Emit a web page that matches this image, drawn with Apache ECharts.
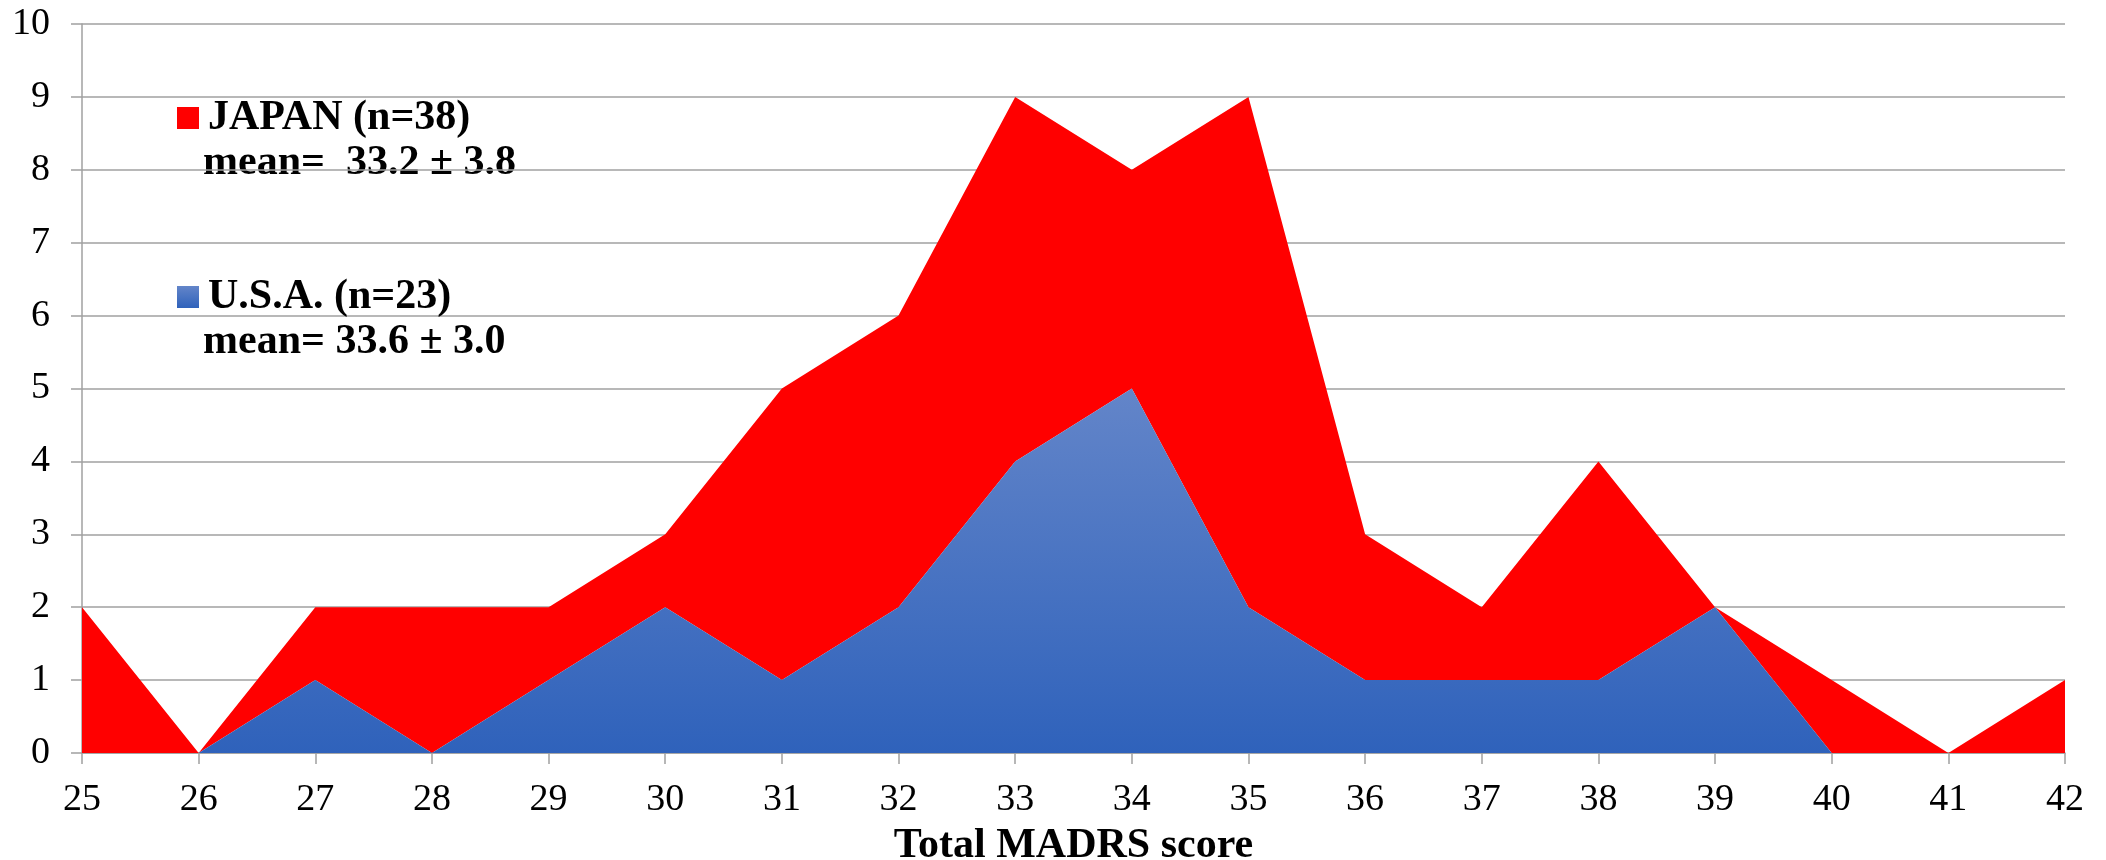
<!DOCTYPE html>
<html>
<head>
<meta charset="utf-8">
<script src="https://cdn.jsdelivr.net/npm/echarts@6/dist/echarts.min.js"></script>
<style>
  html, body { margin: 0; padding: 0; background: #fff; }
  #chart { width: 2106px; height: 860px; }
</style>
</head>
<body>
<div id="chart"></div>
<script>
// Data
var categories = ['25','26','27','28','29','30','31','32','33','34','35','36','37','38','39','40','41','42'];
var usaCounts   = [0, 0, 1, 0, 1, 2, 1, 2, 4, 5, 2, 1, 1, 1, 2, 0, 0, 0];
var japanCounts = [2, 0, 1, 2, 1, 1, 4, 4, 5, 3, 7, 2, 1, 3, 0, 1, 0, 1];
var japanName = 'JAPAN (n=38)';
var usaName = 'U.S.A. (n=23)';
var japanMean = 'mean=  33.2 \u00B1 3.8';
var usaMean = 'mean= 33.6 \u00B1 3.0';
var xTitle = 'Total MADRS score';

var FONT = '"Liberation Serif", "Times New Roman", serif';
var gridColor = '#a0a0a0';
var blueGrad = new echarts.graphic.LinearGradient(0, 0, 0, 1, [
  { offset: 0, color: '#6385c9' },
  { offset: 1, color: '#2f62bb' }
]);

var chart = echarts.init(document.getElementById('chart'));
chart.setOption({
  animation: false,
  backgroundColor: '#ffffff',
  grid: { left: 82, right: 41, top: 24, bottom: 107, containLabel: false, outerBoundsMode: 'none' },
  legend: {
    orient: 'vertical',
    left: 172,
    top: 89,
    icon: 'rect',
    itemWidth: 22,
    itemHeight: 22,
    itemGap: 131,
    selectedMode: false,
    textStyle: {
      fontFamily: FONT, fontSize: 42, fontWeight: 'bold', color: '#000',
      lineHeight: 48, padding: [0, 0, 0, 4]
    },
    data: [
      { name: japanName, itemStyle: { color: '#ff0000' } },
      { name: usaName, itemStyle: { color: blueGrad } }
    ]
  },
  graphic: [
    { type: 'text', left: 203, top: 163 - 24,
      style: { text: japanMean, font: 'bold 42px ' + FONT, fill: '#000', lineHeight: 48 } },
    { type: 'text', left: 203, top: 342 - 24,
      style: { text: usaMean, font: 'bold 42px ' + FONT, fill: '#000', lineHeight: 48 } }
  ],
  xAxis: {
    type: 'category',
    data: categories,
    boundaryGap: false,
    name: xTitle,
    nameLocation: 'middle',
    nameGap: 72,
    nameTextStyle: { fontFamily: FONT, fontSize: 42, fontWeight: 'bold', color: '#000' },
    axisLine: { lineStyle: { color: gridColor, width: 1.5 } },
    axisTick: { show: true, length: 11, lineStyle: { color: gridColor, width: 1.5 } },
    axisLabel: { fontFamily: FONT, fontSize: 38, color: '#000', margin: 28 },
    splitLine: { show: false }
  },
  yAxis: {
    type: 'value',
    min: 0, max: 10, interval: 1,
    axisLine: { show: true, lineStyle: { color: gridColor, width: 1.5 } },
    axisTick: { show: true, length: 11, lineStyle: { color: gridColor, width: 1.5 } },
    axisLabel: { fontFamily: FONT, fontSize: 38, color: '#000', margin: 32 },
    splitLine: { show: true, lineStyle: { color: gridColor, width: 1.5 } }
  },
  series: [
    {
      name: usaName,
      type: 'line',
      stack: 'total',
      data: usaCounts,
      symbol: 'none',
      showSymbol: false,
      lineStyle: { width: 0 },
      itemStyle: { color: '#4470c4' },
      areaStyle: { color: blueGrad, opacity: 1 },
      z: 3
    },
    {
      name: japanName,
      type: 'line',
      stack: 'total',
      data: japanCounts,
      symbol: 'none',
      showSymbol: false,
      lineStyle: { width: 0 },
      itemStyle: { color: '#ff0000' },
      areaStyle: { color: '#ff0000', opacity: 1 },
      z: 2
    }
  ]
});
</script>
</body>
</html>
